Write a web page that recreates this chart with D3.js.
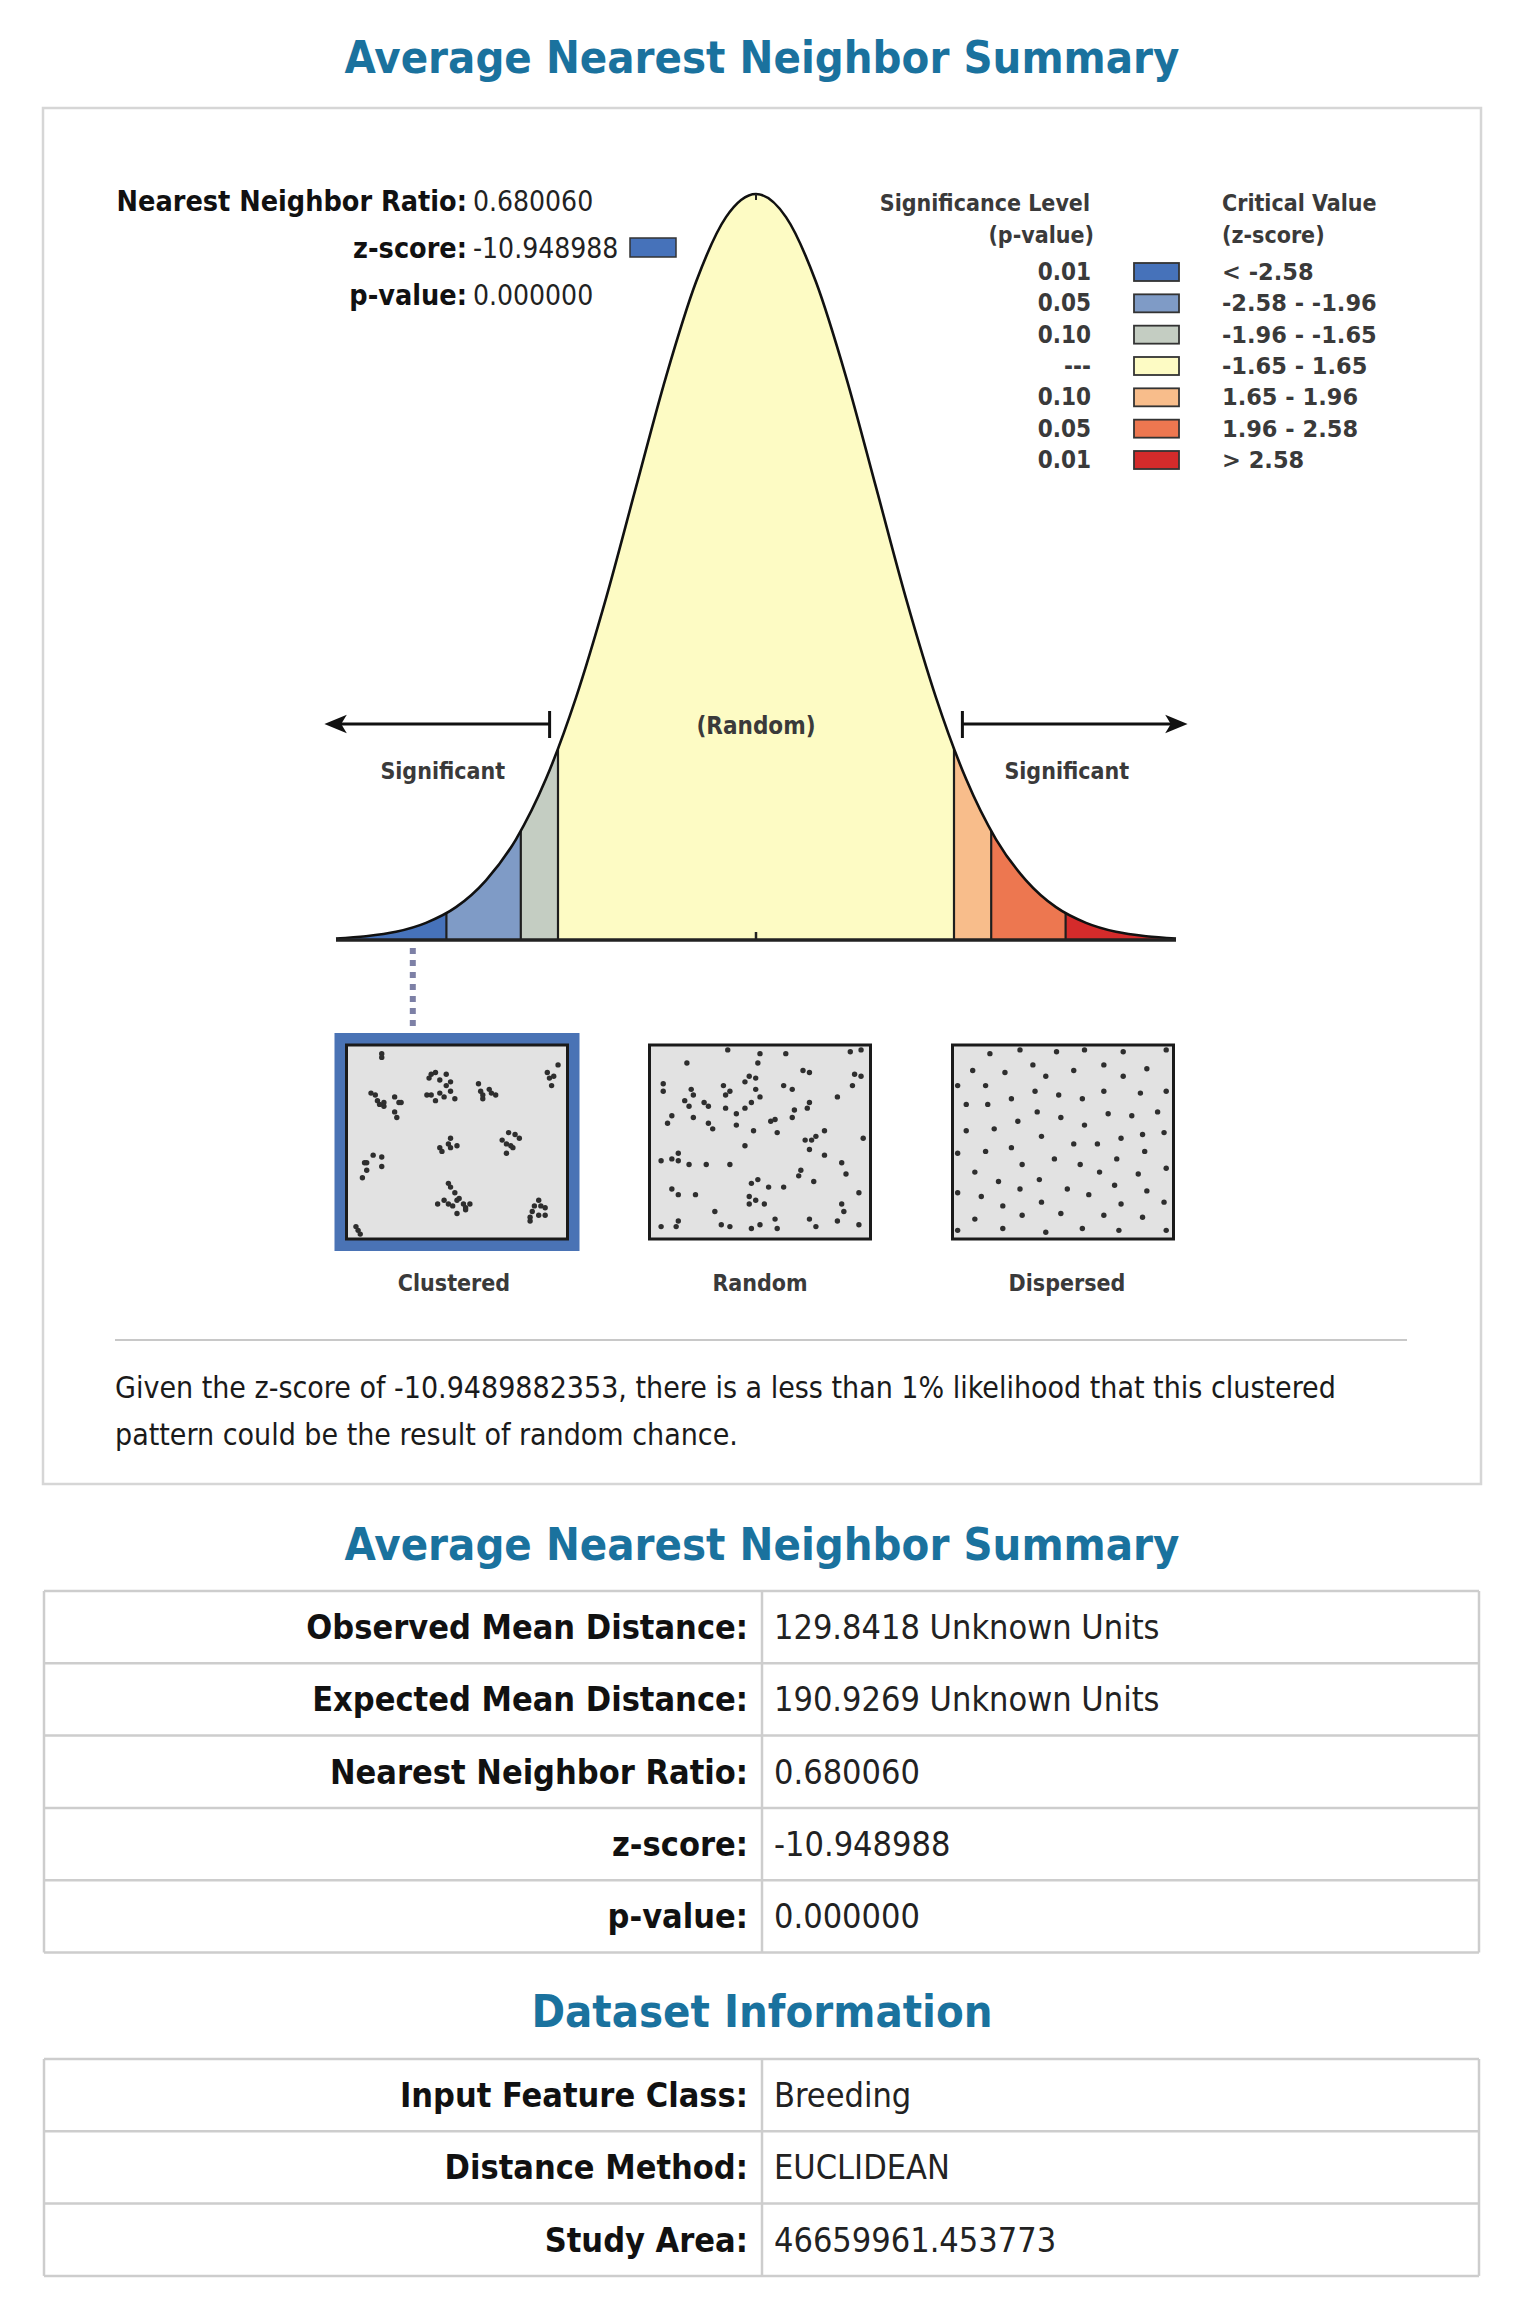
<!DOCTYPE html>
<html>
<head>
<meta charset="utf-8">
<script src="https://cdn.jsdelivr.net/npm/d3@7"></script>
<style>
  body { margin: 0; background: #fff; }
  svg text { font-family: 'DejaVu Sans Condensed', 'DejaVu Sans', sans-serif; font-stretch: condensed; }
  svg text.wide { font-family: 'DejaVu Sans', sans-serif; font-stretch: normal; }
</style>
</head>
<body>
<script>
// ---- values ----
const statLabels = ['Nearest Neighbor Ratio:', 'z-score:', 'p-value:'];
const statValues = ['0.680060', '-10.948988', '0.000000'];

// curve: z stops and height relative to the peak
const zStops  = [-3.5, -3.25, -3, -2.75, -2.5, -2.25, -2, -1.75, -1.5, -1.25, -1, -0.75, -0.5, -0.25, 0,
                 0.25, 0.5, 0.75, 1, 1.25, 1.5, 1.75, 2, 2.25, 2.5, 2.75, 3, 3.25, 3.5];
const heights = [0.002, 0.005, 0.011, 0.023, 0.044, 0.080, 0.135, 0.216, 0.325, 0.458, 0.607, 0.755, 0.882, 0.969, 1,
                 0.969, 0.882, 0.755, 0.607, 0.458, 0.325, 0.216, 0.135, 0.080, 0.044, 0.023, 0.011, 0.005, 0.002];

const bandEdges  = [-3.5, -2.58, -1.96, -1.65, 1.65, 1.96, 2.58, 3.5];
const bandColors = ['#4672ba', '#7f9bc6', '#c4cdc2', '#fdfbc4', '#f8bd8b', '#ed7750', '#d42b2b'];

const legendP = ['0.01', '0.05', '0.10', '---', '0.10', '0.05', '0.01'];
const legendZ = ['< -2.58', '-2.58 - -1.96', '-1.96 - -1.65', '-1.65 - 1.65', '1.65 - 1.96', '1.96 - 2.58', '> 2.58'];

const zMarker = -2.86;   // dotted connector to the clustered box
const zSignificant = 1.72;

const patterns = ['Clustered', 'Random', 'Dispersed'];
// dot positions in % of each box (x, y)
const clusteredDots = [[15,3],[15,5],
  [10,24],[12,25],[13,28],[14,30],[16,31],[16,29],[21,26],[23,29],[24,29],[21,34],[22,37],
  [37,16],[38,14],[40,13],[42,17],[45,14],[47,18],[36,25],[38,25],[40,28],[42,24],[44,26],[47,23],[49,27],[45,20],
  [60,19],[61,23],[62,25],[62,27],[65,22],[66,24],[68,25],
  [97,9],[92,13],[93,16],[95,15],[94,20],
  [47,48],[46,51],[42,53],[43,55],[47,53],[50,52],
  [74,45],[77,46],[79,48],[71,49],[73,51],[76,53],[73,56],[75,52],
  [7,61],[8,61],[11,57],[15,58],[15,63],[8,65],[6,69],
  [46,72],[47,74],[49,77],[41,83],[44,81],[46,83],[50,81],[51,80],[53,83],[54,85],[54,86],[50,88],[56,83],[48,84],
  [88,81],[86,84],[89,84],[91,85],[85,87],[84,90],[84,92],[88,89],[91,89],
  [3,95],[4,97],[5,99]];
const randomDots = [[16,8],[50,3],[49,8],[62,3],[35,1],[92,2],[97,1],[5,19],[5,23],[18,22],[19,25],[15,28],[17,31],
  [24,29],[26,31],[33,20],[34,25],[36,23],[43,18],[45,15],[48,16],[48,22],[50,26],[46,29],[43,32],[34,32],[39,35],
  [39,41],[47,44],[26,40],[28,43],[19,37],[9,36],[7,40],[61,20],[65,22],[70,12],[73,13],[86,26],[93,20],[94,14],
  [97,15],[73,29],[72,32],[66,33],[65,37],[55,39],[57,38],[58,45],[80,44],[71,49],[74,49],[76,47],[73,54],[80,57],
  [98,48],[43,52],[4,60],[9,59],[12,60],[12,56],[17,62],[25,62],[36,62],[88,61],[90,67],[69,65],[68,68],[75,71],
  [46,72],[49,70],[54,74],[61,74],[9,75],[12,78],[20,78],[45,79],[48,81],[52,83],[45,83],[96,77],[88,83],[89,87],
  [29,87],[32,94],[36,95],[46,96],[50,94],[57,91],[58,96],[73,91],[76,95],[86,92],[96,94],[4,95],[11,95],[12,92]];
const dispersedDots = [[16,3],[30,1],[47,2],[60,1],[78,2],[98,1],[8,12],[23,13],[36,9],[42,15],[55,12],[69,9],[78,15],
  [89,11],[1,20],[14,20],[37,23],[48,25],[59,27],[69,23],[86,24],[98,23],[5,30],[15,30],[26,27],[38,34],[49,37],
  [71,35],[82,36],[94,34],[5,44],[18,43],[29,39],[60,41],[40,47],[55,51],[66,51],[77,48],[87,46],[97,45],[1,56],
  [14,55],[26,53],[46,59],[75,59],[88,55],[9,66],[31,62],[58,62],[67,66],[85,67],[98,64],[20,71],[39,70],[30,75],
  [52,75],[74,73],[1,77],[12,79],[62,78],[89,76],[22,84],[40,82],[77,83],[97,82],[9,91],[31,89],[49,88],[69,89],
  [87,90],[1,97],[22,96],[42,98],[59,96],[76,97],[98,97]];
const patternDots = [clusteredDots, randomDots, dispersedDots];

const summaryText = ['Given the z-score of -10.9489882353, there is a less than 1% likelihood that this clustered',
                     'pattern could be the result of random chance.'];

const summaryLabels = ['Observed Mean Distance:', 'Expected Mean Distance:', 'Nearest Neighbor Ratio:', 'z-score:', 'p-value:'];
const summaryValues = ['129.8418 Unknown Units', '190.9269 Unknown Units', '0.680060', '-10.948988', '0.000000'];
const datasetLabels = ['Input Feature Class:', 'Distance Method:', 'Study Area:'];
const datasetValues = ['Breeding', 'EUCLIDEAN', '46659961.453773'];

// ---- page ----
const W = 1529, H = 2304;
const svg = d3.select('body').append('svg').attr('width', W).attr('height', H);
const titleColor = '#1a729e';

function title(txt, y) {
  svg.append('text').attr('x', 762).attr('y', y).attr('text-anchor', 'middle')
     .attr('font-size', 45).attr('font-weight', 'bold').attr('fill', titleColor).text(txt);
}

title('Average Nearest Neighbor Summary', 73);

// frame around the graphic
svg.append('rect').attr('x', 43).attr('y', 108).attr('width', 1438).attr('height', 1376)
   .attr('fill', '#fff').attr('stroke', '#d6d6d6').attr('stroke-width', 2.5);

// stats at top-left
const stats = svg.append('g');
statLabels.forEach((l, i) => {
  const yy = 211 + i * 47;
  stats.append('text').attr('x', 467).attr('y', yy).attr('text-anchor', 'end')
       .attr('font-size', 28.5).attr('font-weight', 'bold').attr('fill', '#111').text(l);
  stats.append('text').attr('x', 473).attr('y', yy).attr('font-size', 28).attr('fill', '#222').text(statValues[i]);
});
stats.append('rect').attr('x', 630).attr('y', 238).attr('width', 46).attr('height', 19)
     .attr('fill', bandColors[0]).attr('stroke', '#333').attr('stroke-width', 1.5);

// ---- bell curve ----
const x = d3.scaleLinear().domain([-3.5, 3.5]).range([336, 1176]);
const y = d3.scaleLinear().domain([0, 1]).range([940, 194]);
const pts = zStops.map((z, i) => [z, heights[i]]);

const area = d3.area().x(d => x(d[0])).y0(y(0)).y1(d => y(d[1])).curve(d3.curveMonotoneX);
const line = d3.line().x(d => x(d[0])).y(d => y(d[1])).curve(d3.curveMonotoneX);

const defs = svg.append('defs');
defs.append('clipPath').attr('id', 'bell').append('path').attr('d', area(pts));
const bandClip = defs.selectAll('.bc').data(d3.pairs(bandEdges)).join('clipPath')
  .attr('class', 'bc').attr('id', (d, i) => 'band' + i);
bandClip.append('rect').attr('x', d => x(d[0])).attr('y', 0)
  .attr('width', d => x(d[1]) - x(d[0])).attr('height', H);

const curveG = svg.append('g');
curveG.selectAll('.band').data(bandColors).join('path').attr('class', 'band')
  .attr('d', area(pts)).attr('fill', c => c).attr('clip-path', (c, i) => `url(#band${i})`);

// band dividers, clipped to the bell shape
curveG.append('g').attr('clip-path', 'url(#bell)')
  .selectAll('line').data(bandEdges.slice(1, -1)).join('line')
  .attr('x1', d => x(d)).attr('x2', d => x(d)).attr('y1', y(0)).attr('y2', y(1))
  .attr('stroke', '#1e1e1e').attr('stroke-width', 2.2);

curveG.append('path').attr('d', line(pts)).attr('fill', 'none').attr('stroke', '#111').attr('stroke-width', 2.6);
curveG.append('line').attr('x1', x(-3.5)).attr('x2', x(3.5)).attr('y1', y(0)).attr('y2', y(0))
  .attr('stroke', '#222').attr('stroke-width', 3.5);
curveG.append('line').attr('x1', x(0)).attr('x2', x(0)).attr('y1', y(0)).attr('y2', y(0) - 8)
  .attr('stroke', '#222').attr('stroke-width', 2.5);
curveG.append('line').attr('x1', x(0)).attr('x2', x(0)).attr('y1', y(1)).attr('y2', y(1) + 6)
  .attr('stroke', '#222').attr('stroke-width', 2);

// significance arrows
defs.append('marker').attr('id', 'arrow').attr('viewBox', '0 0 12 12').attr('refX', 9).attr('refY', 6)
  .attr('markerWidth', 7).attr('markerHeight', 7).attr('orient', 'auto-start-reverse')
  .append('path').attr('d', 'M0,1 L12,6 L0,11 L3,6 Z').attr('fill', '#111');
const arrowY = 724;
[[-zSignificant, -3.55], [zSignificant, 3.55]].forEach(([from, to]) => {
  curveG.append('line').attr('x1', x(from)).attr('x2', x(to)).attr('y1', arrowY).attr('y2', arrowY)
    .attr('stroke', '#111').attr('stroke-width', 3.2).attr('marker-end', 'url(#arrow)');
  curveG.append('line').attr('x1', x(from)).attr('x2', x(from)).attr('y1', arrowY - 13).attr('y2', arrowY + 14)
    .attr('stroke', '#111').attr('stroke-width', 3);
});
const lbl = { 'font-size': 23, 'font-weight': 'bold', fill: '#3a3a3a', 'text-anchor': 'middle' };
function styled(sel, o) { Object.entries(o).forEach(([k, v]) => sel.attr(k, v)); return sel; }
styled(curveG.append('text'), lbl).attr('x', x(0)).attr('y', 734).attr('font-size', 24).text('(Random)');
styled(curveG.append('text'), lbl).attr('x', x(-2.61)).attr('y', 779).text('Significant');
styled(curveG.append('text'), lbl).attr('x', x(2.59)).attr('y', 779).text('Significant');

// dotted connector
curveG.append('line').attr('x1', x(zMarker)).attr('x2', x(zMarker)).attr('y1', 948).attr('y2', 1030)
  .attr('stroke', '#7d80a6').attr('stroke-width', 6).attr('stroke-dasharray', '6,6');

// ---- legend ----
const lg = svg.append('g');
styled(lg.append('text'), lbl).attr('text-anchor', 'end').attr('x', 1090).attr('y', 211).text('Significance Level');
styled(lg.append('text'), lbl).attr('text-anchor', 'end').attr('x', 1094).attr('y', 243).text('(p-value)');
styled(lg.append('text'), lbl).attr('text-anchor', 'start').attr('x', 1222).attr('y', 211).text('Critical Value');
styled(lg.append('text'), lbl).attr('text-anchor', 'start').attr('x', 1222).attr('y', 243).text('(z-score)');
const rowY = d3.scalePoint().domain(d3.range(legendP.length)).range([272, 460]);
const rows = lg.selectAll('.lrow').data(legendP).join('g').attr('class', 'lrow')
  .attr('transform', (d, i) => `translate(0,${rowY(i)})`);
styled(rows.append('text'), lbl).attr('text-anchor', 'end').attr('x', 1091).attr('y', 8).attr('font-size', 24).text(d => d);
rows.append('rect').attr('x', 1134).attr('y', -9).attr('width', 45).attr('height', 18)
  .attr('fill', (d, i) => bandColors[i]).attr('stroke', '#333').attr('stroke-width', 1.8);
styled(rows.append('text'), lbl).attr('class', 'wide').attr('text-anchor', 'start').attr('x', 1222).attr('y', 8)
  .attr('font-size', 22.5).text((d, i) => legendZ[i]);

// ---- point pattern boxes ----
const px = d3.scalePoint().domain(patterns).range([457, 1063]);
const labelShift = [-3, 0, 4];
const boxW = 221, boxH = 194, boxTop = 1045;
const pg = svg.selectAll('.pat').data(patterns).join('g').attr('class', 'pat')
  .attr('transform', d => `translate(${px(d) - boxW / 2},${boxTop})`);
pg.filter((d, i) => i === 0).append('rect').attr('x', -6).attr('y', -6)
  .attr('width', boxW + 12).attr('height', boxH + 12)
  .attr('fill', 'none').attr('stroke', '#4a73b5').attr('stroke-width', 12);
pg.append('rect').attr('width', boxW).attr('height', boxH)
  .attr('fill', '#e2e2e2').attr('stroke', '#1a1a1a').attr('stroke-width', 3);
const dx = d3.scaleLinear().domain([0, 100]).range([3, boxW - 3]);
const dy = d3.scaleLinear().domain([0, 100]).range([3, boxH - 3]);
pg.each(function(d, i) {
  d3.select(this).selectAll('circle').data(patternDots[i]).join('circle')
    .attr('cx', p => dx(p[0])).attr('cy', p => dy(p[1])).attr('r', 2.7).attr('fill', '#2e2e2e');
});
styled(pg.append('text'), lbl).attr('x', (d, i) => boxW / 2 + labelShift[i]).attr('y', 246).text(d => d);

// separator + explanation
svg.append('line').attr('x1', 115).attr('x2', 1407).attr('y1', 1340).attr('y2', 1340)
  .attr('stroke', '#c8c8c8').attr('stroke-width', 2);
svg.selectAll('.para').data(summaryText).join('text').attr('class', 'para')
  .attr('x', 115).attr('y', (d, i) => 1398 + i * 47).attr('font-size', 30).attr('fill', '#1a1a1a').text(d => d);

// ---- tables ----
function table(labels, values, top) {
  const rh = 72.3, left = 44, right = 1479, mid = 762;
  const g = svg.append('g');
  const ry = d3.scaleLinear().domain([0, labels.length]).range([top, top + rh * labels.length]);
  g.selectAll('.hl').data(d3.range(labels.length + 1)).join('line')
    .attr('x1', left).attr('x2', right).attr('y1', d => ry(d)).attr('y2', d => ry(d))
    .attr('stroke', '#cdcdcd').attr('stroke-width', 2.5);
  g.selectAll('.vl').data([left, mid, right]).join('line')
    .attr('x1', d => d).attr('x2', d => d).attr('y1', ry(0)).attr('y2', ry(labels.length))
    .attr('stroke', '#cdcdcd').attr('stroke-width', 2.5);
  g.selectAll('.lab').data(labels).join('text').attr('class', 'lab')
    .attr('x', 748).attr('y', (d, i) => ry(i + 0.5) + 12).attr('text-anchor', 'end')
    .attr('font-size', 34).attr('font-weight', 'bold').attr('fill', '#111').text(d => d);
  g.selectAll('.val').data(values).join('text').attr('class', 'val')
    .attr('x', 774).attr('y', (d, i) => ry(i + 0.5) + 12)
    .attr('font-size', 34).attr('fill', '#222').text(d => d);
}

title('Average Nearest Neighbor Summary', 1560);
table(summaryLabels, summaryValues, 1591);
title('Dataset Information', 2027);
table(datasetLabels, datasetValues, 2059);
</script>
</body>
</html>
